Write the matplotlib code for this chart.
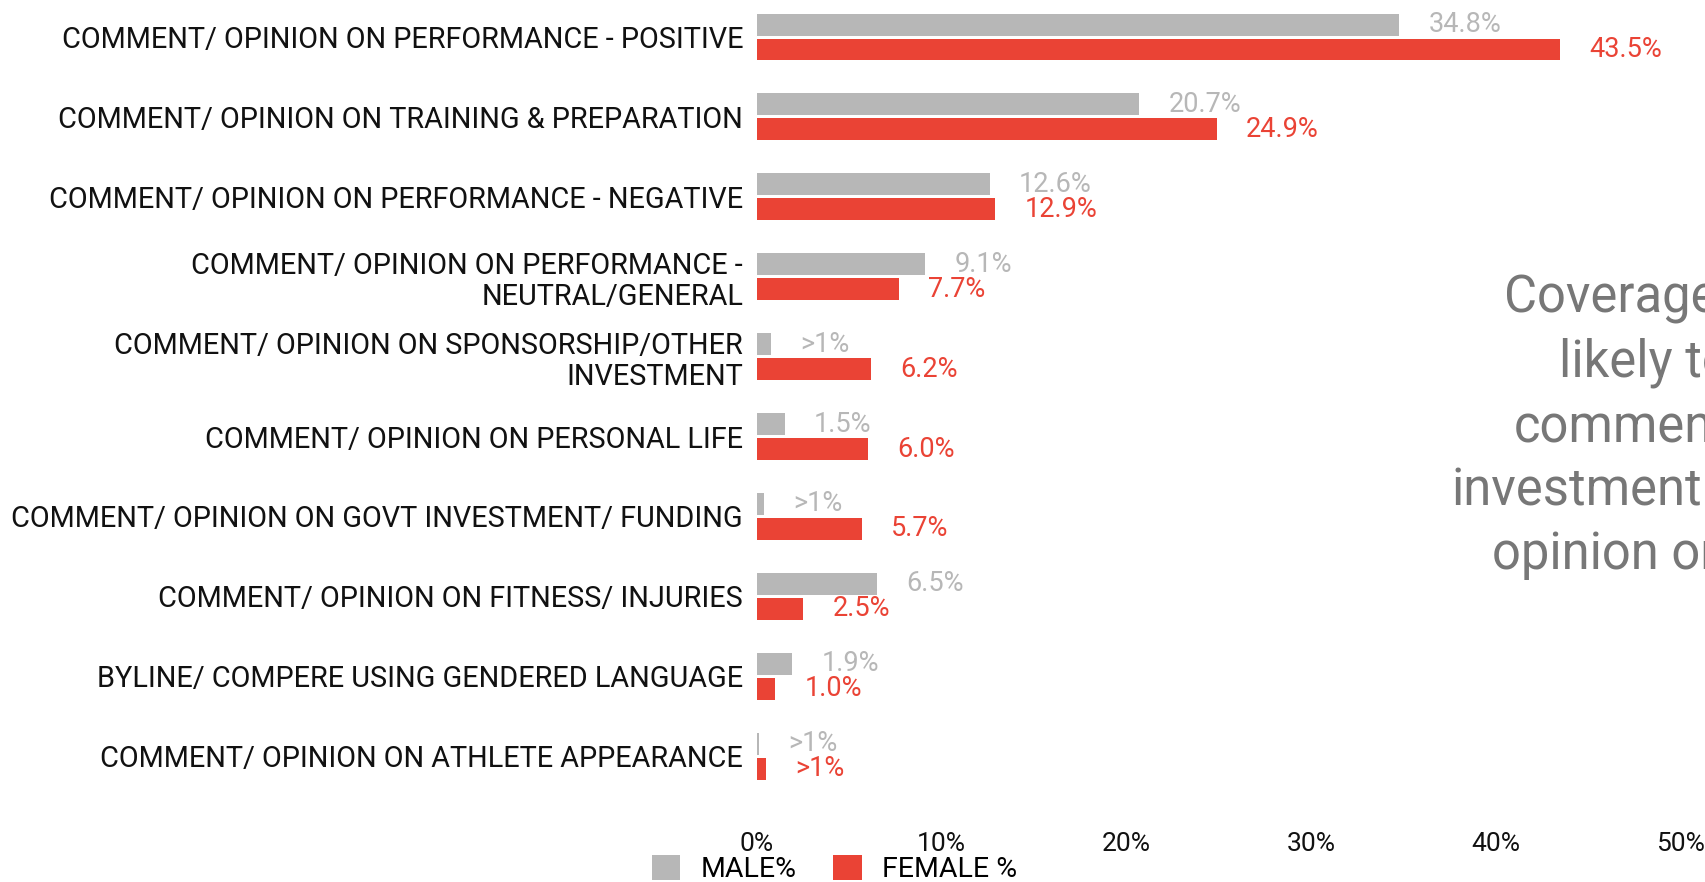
import matplotlib.pyplot as plt
import numpy as np
from matplotlib.patches import Patch

categories = [
    "COMMENT/ OPINION ON PERFORMANCE - POSITIVE",
    "COMMENT/ OPINION ON TRAINING & PREPARATION",
    "COMMENT/ OPINION ON PERFORMANCE - NEGATIVE",
    "COMMENT/ OPINION ON PERFORMANCE -\nNEUTRAL/GENERAL",
    "COMMENT/ OPINION ON SPONSORSHIP/OTHER\nINVESTMENT",
    "COMMENT/ OPINION ON PERSONAL LIFE",
    "COMMENT/ OPINION ON GOVT INVESTMENT/ FUNDING",
    "COMMENT/ OPINION ON FITNESS/ INJURIES",
    "BYLINE/ COMPERE USING GENDERED LANGUAGE",
    "COMMENT/ OPINION ON ATHLETE APPEARANCE",
]
male = [34.8, 20.7, 12.6, 9.1, 0.75, 1.5, 0.4, 6.5, 1.9, 0.1]
female = [43.5, 24.9, 12.9, 7.7, 6.2, 6.0, 5.7, 2.5, 1.0, 0.5]
male_labels = ["34.8%", "20.7%", "12.6%", "9.1%", ">1%", "1.5%", ">1%", "6.5%", "1.9%", ">1%"]
female_labels = ["43.5%", "24.9%", "12.9%", "7.7%", "6.2%", "6.0%", "5.7%", "2.5%", "1.0%", ">1%"]
ticks = [0, 10, 20, 30, 40, 50]
note_lines = ["Coverage", "likely to", "comment", "investment", "opinion on"]

GREY = "#b7b7b7"
RED = "#ea4335"
plt.rcParams['font.family'] = ['Roboto', 'DejaVu Sans']

W, H = 1706, 882
fig = plt.figure(figsize=(W / 100, H / 100), dpi=100)

# axes placed in pixel terms
left_px, right_px = 757, 1680
top_px, bot_px = 0, 815
ax = fig.add_axes([left_px / W, 1 - bot_px / H, (right_px - left_px) / W, (bot_px - top_px) / H])

row = 79.9  # px per category
y = np.arange(len(categories))
bh = 22 / row
off = 12.5 / row

ax.barh(y - off, male, height=bh, color=GREY)
ax.barh(y + off, female, height=bh, color=RED)

for i in range(len(categories)):
    ax.annotate(male_labels[i], (male[i], y[i] - off), xytext=(21, 0), textcoords='offset points',
                va='center', ha='left', fontsize=19.5, color=GREY)
    ax.annotate(female_labels[i], (female[i], y[i] + off), xytext=(21, 0), textcoords='offset points',
                va='center', ha='left', fontsize=19.5, color=RED)

ax.set_xlim(0, 50)
ax.set_ylim((bot_px - 37) / row, -37 / row)
ax.set_yticks(y)
ax.set_yticklabels(categories, fontsize=20.8, color="#111111", linespacing=1.15)
ax.set_xticks(ticks)
ax.set_xticklabels([f"{t}%" for t in ticks], fontsize=19, color="#111111")
ax.tick_params(axis='both', length=0)
ax.tick_params(axis='y', pad=10)
ax.tick_params(axis='x', pad=12)
for s in ax.spines.values():
    s.set_visible(False)

# overlaid note, clipped at the right edge like the source
note_x = [1504, 1559, 1514, 1452, 1492]
for i, line in enumerate(note_lines):
    fig.text(note_x[i] / W, 1 - (299 + i * 64) / H, line, fontsize=36.5, color="#777777",
             ha='left', va='center')

handles = [Patch(facecolor=GREY, label="MALE%"), Patch(facecolor=RED, label="FEMALE %")]
fig.legend(handles=handles, loc='center', bbox_to_anchor=(0.489, 13 / H), ncol=2, frameon=False,
           fontsize=20.5, handlelength=1.0, handleheight=1.0, handletextpad=0.7, columnspacing=1.3)

fig.savefig("out.png", dpi=100)
